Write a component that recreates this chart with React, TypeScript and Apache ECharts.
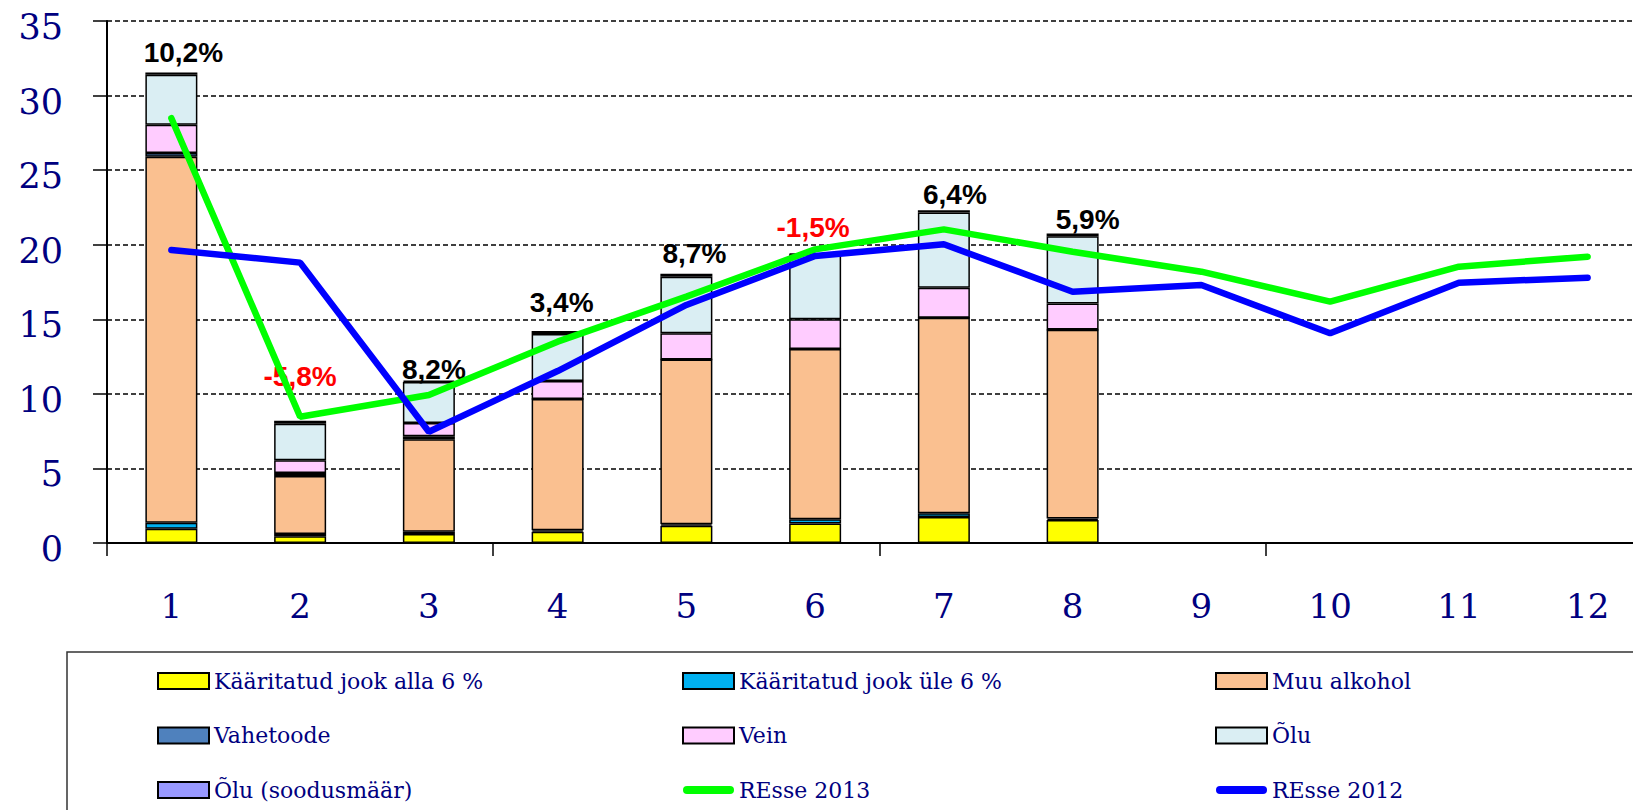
import React, { useEffect, useRef } from "react";
import * as echarts from "echarts";

const categories = ["1", "2", "3", "4", "5", "6", "7", "8", "9", "10", "11", "12"];
const kaarAlla6 = [0.95, 0.45, 0.6, 0.75, 1.15, 1.3, 1.75, 1.55];
const kaarYle6 = [0.4, 0.15, 0.15, 0.1, 0.1, 0.3, 0.25, 0.1];
const muuAlkohol = [24.55, 3.9, 6.2, 8.8, 11.05, 11.4, 13.1, 12.65];
const vahetoode = [0.25, 0.2, 0.2, 0.01, 0.01, 0.01, 0.01, 0.01];
const vein = [1.9, 0.85, 0.9, 1.2, 1.75, 2.0, 2.0, 1.75];
const olu = [3.35, 2.45, 2.75, 3.15, 3.8, 4.35, 5.05, 4.5];
const oluSoodus = [0.15, 0.2, 0.08, 0.2, 0.2, 0.05, 0.15, 0.2];
const resse2013 = [28.48, 8.47, 9.92, 13.5, 16.52, 19.69, 21.03, 19.53, 18.19, 16.18, 18.53, 19.2];
const resse2012 = [19.65, 18.8, 7.46, 11.53, 15.96, 19.24, 20.03, 16.85, 17.3, 14.06, 17.45, 17.79];
const changeLabels = ["10,2%", "-5,8%", "8,2%", "3,4%", "8,7%", "-1,5%", "6,4%", "5,9%"];

// label nudges (layout only)
const labelOffsets: [number, number][] = [
  [12, -6], [0, -30], [5, 3], [4, -15], [8, -6], [-2, -12], [11, -2], [15, 0],
];

const NAVY = "#000080";
const SERIF = "DejaVu Serif";
const LINE_ICON = "path://M0,0M51,16M4,4H47A4,4 0 0 1 47,12H4A4,4 0 0 1 4,4Z";

export default function App() {
  const ref = useRef<HTMLDivElement>(null);
  useEffect(() => {
    if (!ref.current) return;
    const chart = echarts.init(ref.current, undefined, { renderer: "svg" });
    const border = { borderColor: "#000", borderWidth: 1.5 };
    const barBase = {
      type: "bar",
      stack: "total",
      barWidth: 52,
      z: 2,
    };
    const legendBase = {
      orient: "vertical",
      top: 670,
      height: 200,
      padding: 0,
      itemWidth: 51,
      itemHeight: 16,
      itemGap: 32.5,
      textStyle: {
        color: NAVY,
        fontFamily: SERIF,
        fontSize: 22,
      },
    };
    const option: any = {
      animation: false,
      backgroundColor: "#fff",
      grid: {
        left: 107,
        top: 21,
        width: 1545,
        height: 522,
        containLabel: false,
        outerBoundsMode: "none",
      },
      xAxis: {
        type: "category",
        data: categories,
        boundaryGap: true,
        axisLine: { show: true, lineStyle: { color: "#000", width: 2 } },
        axisTick: {
          show: true,
          interval: (index: number) => index % 3 === 0,
          length: 13,
          lineStyle: { color: "#000", width: 1.5 },
        },
        axisLabel: {
          interval: 0,
          margin: 46,
          color: NAVY,
          fontFamily: SERIF,
          fontSize: 34,
        },
        splitLine: { show: false },
      },
      yAxis: {
        type: "value",
        min: 0,
        max: 35,
        interval: 5,
        axisLine: { show: true, lineStyle: { color: "#000", width: 2 } },
        axisTick: { show: true, length: 14, lineStyle: { color: "#000", width: 1.5 } },
        axisLabel: {
          margin: 44,
          color: NAVY,
          fontFamily: SERIF,
          fontSize: 35,
          verticalAlign: "top",
          lineHeight: 12,
        },
        splitLine: {
          show: true,
          lineStyle: { color: "#000", width: 1.5, type: [5, 3] },
        },
      },
      legend: [
        {
          ...legendBase,
          left: 157,
          data: [
            { name: "Kääritatud jook alla 6 %", icon: "rect" },
            { name: "Vahetoode", icon: "rect" },
            { name: "Õlu (soodusmäär)", icon: "rect" },
          ],
        },
        {
          ...legendBase,
          left: 682,
          data: [
            { name: "Kääritatud jook üle 6 %", icon: "rect" },
            { name: "Vein", icon: "rect" },
            { name: "REsse 2013", icon: LINE_ICON, itemStyle: { color: "#00FF00", borderWidth: 0 } },
          ],
        },
        {
          ...legendBase,
          left: 1215,
          data: [
            { name: "Muu alkohol", icon: "rect" },
            { name: "Õlu", icon: "rect" },
            { name: "REsse 2012", icon: LINE_ICON, itemStyle: { color: "#0000FF", borderWidth: 0 } },
          ],
        },
      ],
      graphic: [
        {
          type: "rect",
          shape: { x: 67, y: 652, width: 1620, height: 220 },
          style: { fill: "none", stroke: "#333", lineWidth: 1.5 },
          silent: true,
          z: 0,
        },
      ],
      series: [
        { ...barBase, name: "Kääritatud jook alla 6 %", data: kaarAlla6, itemStyle: { color: "#FFFF00", ...border } },
        { ...barBase, name: "Kääritatud jook üle 6 %", data: kaarYle6, itemStyle: { color: "#00B0F0", ...border } },
        { ...barBase, name: "Muu alkohol", data: muuAlkohol, itemStyle: { color: "#FAC090", ...border } },
        { ...barBase, name: "Vahetoode", data: vahetoode, itemStyle: { color: "#4F81BD", ...border } },
        { ...barBase, name: "Vein", data: vein, itemStyle: { color: "#FFCCFF", ...border } },
        { ...barBase, name: "Õlu", data: olu, itemStyle: { color: "#DAEEF3", ...border } },
        {
          ...barBase,
          name: "Õlu (soodusmäär)",
          itemStyle: { color: "#9999FF", ...border },
          data: oluSoodus.map((v, i) => ({
            value: v,
            label: {
              show: true,
              position: "top",
              distance: 0,
              formatter: changeLabels[i],
              offset: labelOffsets[i],
              color: changeLabels[i].startsWith("-") ? "#FF0000" : "#000000",
              fontFamily: "Liberation Sans",
              fontWeight: "bold",
              fontSize: 28,
              lineHeight: 28,
            },
          })),
        },
        {
          type: "line",
          name: "REsse 2013",
          data: resse2013,
          symbol: "none",
          z: 3,
          lineStyle: { color: "#00FF00", width: 6.5, cap: "round" },
          itemStyle: { color: "#00FF00" },
        },
        {
          type: "line",
          name: "REsse 2012",
          data: resse2012,
          symbol: "none",
          z: 3,
          lineStyle: { color: "#0000FF", width: 6.5, cap: "round" },
          itemStyle: { color: "#0000FF" },
        },
      ],
    };
    chart.setOption(option);
    return () => chart.dispose();
  }, []);
  return (
    <div
      ref={ref}
      style={{ position: "fixed", left: 0, top: 0, width: 1633, height: 810 }}
    />
  );
}
